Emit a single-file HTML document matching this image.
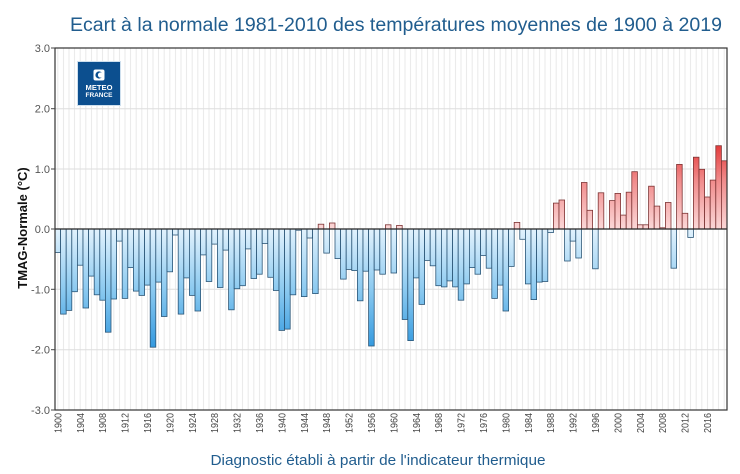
<!DOCTYPE html>
<html><head><meta charset="utf-8">
<style>
html,body{margin:0;padding:0;background:#fff;}
svg{display:block;font-family:"Liberation Sans",Arial,sans-serif;}
</style></head>
<body>
<svg width="740" height="474" viewBox="0 0 740 474" xmlns="http://www.w3.org/2000/svg">
<defs>
<linearGradient id="gb" gradientUnits="userSpaceOnUse" x1="0" y1="229" x2="0" y2="350">
<stop offset="0" stop-color="#e2f2fd"/><stop offset="0.5" stop-color="#8ccaf0"/><stop offset="1" stop-color="#2f97de"/>
</linearGradient>
<linearGradient id="gr" gradientUnits="userSpaceOnUse" x1="0" y1="229" x2="0" y2="145">
<stop offset="0" stop-color="#fbd8d8"/><stop offset="0.6" stop-color="#f08888"/><stop offset="1" stop-color="#e33a3a"/>
</linearGradient>
<pattern id="vg" patternUnits="userSpaceOnUse" x="55" y="0" width="5.6" height="474">
<line x1="2.8" y1="0" x2="2.8" y2="474" stroke="#e8e8e8" stroke-width="1"/>
</pattern>
</defs>

<text x="396" y="31" text-anchor="middle" font-size="19" fill="#215d8e" textLength="652" lengthAdjust="spacingAndGlyphs">Ecart à la normale 1981-2010 des températures moyennes de 1900 à 2019</text>

<rect x="55" y="48" width="672" height="362" fill="url(#vg)"/>
<g stroke="#dedede" stroke-width="1">
<line x1="55" y1="108.7" x2="727" y2="108.7"/>
<line x1="55" y1="169" x2="727" y2="169"/>
<line x1="55" y1="289.3" x2="727" y2="289.3"/>
<line x1="55" y1="349.7" x2="727" y2="349.7"/>
</g>

<!-- logo -->
<rect x="77.5" y="61.5" width="43" height="44" fill="#0c4f8f" stroke="#cfe0ee" stroke-width="1"/>
<rect x="93.5" y="69.5" width="11" height="11" rx="2" fill="#fff"/>
<circle cx="99" cy="75" r="3.6" fill="#0c4f8f"/>
<circle cx="100.5" cy="75" r="2.6" fill="#fff"/>
<text x="99" y="90" text-anchor="middle" font-size="7.5" font-weight="bold" fill="#fff" textLength="27" lengthAdjust="spacingAndGlyphs">METEO</text>
<text x="99" y="97" text-anchor="middle" font-size="6.5" font-weight="bold" fill="#fff" textLength="27" lengthAdjust="spacingAndGlyphs">FRANCE</text>

<!-- negative bars -->
<g fill="url(#gb)" stroke="#2b5677" stroke-width="0.8">
<rect x="55" y="229" width="5.6" height="23.5"/>
<rect x="60.6" y="229" width="5.6" height="85.1"/>
<rect x="66.2" y="229" width="5.6" height="81.4"/>
<rect x="71.8" y="229" width="5.6" height="62.7"/>
<rect x="77.4" y="229" width="5.6" height="36.2"/>
<rect x="83" y="229" width="5.6" height="79"/>
<rect x="88.6" y="229" width="5.6" height="47.1"/>
<rect x="94.2" y="229" width="5.6" height="65.8"/>
<rect x="99.8" y="229" width="5.6" height="71.2"/>
<rect x="105.4" y="229" width="5.6" height="103.2"/>
<rect x="111" y="229" width="5.6" height="70"/>
<rect x="116.6" y="229" width="5.6" height="12.1"/>
<rect x="122.2" y="229" width="5.6" height="69.4"/>
<rect x="127.8" y="229" width="5.6" height="38.6"/>
<rect x="133.4" y="229" width="5.6" height="62.1"/>
<rect x="139" y="229" width="5.6" height="66.4"/>
<rect x="144.6" y="229" width="5.6" height="56.1"/>
<rect x="150.2" y="229" width="5.6" height="118.2"/>
<rect x="155.8" y="229" width="5.6" height="53.1"/>
<rect x="161.4" y="229" width="5.6" height="87.5"/>
<rect x="167" y="229" width="5.6" height="42.8"/>
<rect x="172.6" y="229" width="5.6" height="6"/>
<rect x="178.2" y="229" width="5.6" height="85.1"/>
<rect x="183.8" y="229" width="5.6" height="48.9"/>
<rect x="189.4" y="229" width="5.6" height="66.4"/>
<rect x="195" y="229" width="5.6" height="82"/>
<rect x="200.6" y="229" width="5.6" height="25.9"/>
<rect x="206.2" y="229" width="5.6" height="52.5"/>
<rect x="211.8" y="229" width="5.6" height="15.1"/>
<rect x="217.4" y="229" width="5.6" height="58.5"/>
<rect x="223" y="229" width="5.6" height="21.1"/>
<rect x="228.6" y="229" width="5.6" height="80.8"/>
<rect x="234.2" y="229" width="5.6" height="59.7"/>
<rect x="239.8" y="229" width="5.6" height="56.7"/>
<rect x="245.4" y="229" width="5.6" height="19.9"/>
<rect x="251" y="229" width="5.6" height="49.5"/>
<rect x="256.6" y="229" width="5.6" height="45.2"/>
<rect x="262.2" y="229" width="5.6" height="14.5"/>
<rect x="267.8" y="229" width="5.6" height="48.3"/>
<rect x="273.4" y="229" width="5.6" height="61.5"/>
<rect x="279" y="229" width="5.6" height="101.4"/>
<rect x="284.6" y="229" width="5.6" height="100.1"/>
<rect x="290.2" y="229" width="5.6" height="65.8"/>
<rect x="295.8" y="229" width="5.6" height="1.2"/>
<rect x="301.4" y="229" width="5.6" height="67.6"/>
<rect x="307" y="229" width="5.6" height="9"/>
<rect x="312.6" y="229" width="5.6" height="64.6"/>
<rect x="323.8" y="229" width="5.6" height="24.1"/>
<rect x="335" y="229" width="5.6" height="29.6"/>
<rect x="340.6" y="229" width="5.6" height="50.1"/>
<rect x="346.2" y="229" width="5.6" height="40.4"/>
<rect x="351.8" y="229" width="5.6" height="41.6"/>
<rect x="357.4" y="229" width="5.6" height="71.8"/>
<rect x="363" y="229" width="5.6" height="42.2"/>
<rect x="368.6" y="229" width="5.6" height="117"/>
<rect x="374.2" y="229" width="5.6" height="41"/>
<rect x="379.8" y="229" width="5.6" height="45.2"/>
<rect x="391" y="229" width="5.6" height="44"/>
<rect x="402.2" y="229" width="5.6" height="90.5"/>
<rect x="407.8" y="229" width="5.6" height="111.6"/>
<rect x="413.4" y="229" width="5.6" height="48.9"/>
<rect x="419" y="229" width="5.6" height="75.4"/>
<rect x="424.6" y="229" width="5.6" height="31.4"/>
<rect x="430.2" y="229" width="5.6" height="36.8"/>
<rect x="435.8" y="229" width="5.6" height="56.7"/>
<rect x="441.4" y="229" width="5.6" height="57.9"/>
<rect x="447" y="229" width="5.6" height="51.9"/>
<rect x="452.6" y="229" width="5.6" height="57.9"/>
<rect x="458.2" y="229" width="5.6" height="71.2"/>
<rect x="463.8" y="229" width="5.6" height="54.9"/>
<rect x="469.4" y="229" width="5.6" height="38.6"/>
<rect x="475" y="229" width="5.6" height="45.2"/>
<rect x="480.6" y="229" width="5.6" height="26.5"/>
<rect x="486.2" y="229" width="5.6" height="39.2"/>
<rect x="491.8" y="229" width="5.6" height="69.4"/>
<rect x="497.4" y="229" width="5.6" height="56.1"/>
<rect x="503" y="229" width="5.6" height="82"/>
<rect x="508.6" y="229" width="5.6" height="37.4"/>
<rect x="519.8" y="229" width="5.6" height="10.3"/>
<rect x="525.4" y="229" width="5.6" height="54.9"/>
<rect x="531" y="229" width="5.6" height="70.6"/>
<rect x="536.6" y="229" width="5.6" height="53.1"/>
<rect x="542.2" y="229" width="5.6" height="52.5"/>
<rect x="547.8" y="229" width="5.6" height="3.6"/>
<rect x="564.6" y="229" width="5.6" height="32"/>
<rect x="570.2" y="229" width="5.6" height="12.1"/>
<rect x="575.8" y="229" width="5.6" height="29"/>
<rect x="592.6" y="229" width="5.6" height="39.8"/>
<rect x="671" y="229" width="5.6" height="39.2"/>
<rect x="687.8" y="229" width="5.6" height="8.4"/>
</g>

<!-- positive bars -->
<g fill="url(#gr)" stroke="#7d3434" stroke-width="0.8">
<rect x="318.2" y="224.2" width="5.6" height="4.8"/>
<rect x="329.4" y="223" width="5.6" height="6"/>
<rect x="385.4" y="224.8" width="5.6" height="4.2"/>
<rect x="396.6" y="225.4" width="5.6" height="3.6"/>
<rect x="514.2" y="222.4" width="5.6" height="6.6"/>
<rect x="553.4" y="203.1" width="5.6" height="25.9"/>
<rect x="559" y="200" width="5.6" height="29"/>
<rect x="581.4" y="182.5" width="5.6" height="46.5"/>
<rect x="587" y="210.3" width="5.6" height="18.7"/>
<rect x="598.2" y="192.8" width="5.6" height="36.2"/>
<rect x="609.4" y="200.6" width="5.6" height="28.4"/>
<rect x="615" y="193.4" width="5.6" height="35.6"/>
<rect x="620.6" y="215.1" width="5.6" height="13.9"/>
<rect x="626.2" y="192.2" width="5.6" height="36.8"/>
<rect x="631.8" y="171.7" width="5.6" height="57.3"/>
<rect x="637.4" y="224.8" width="5.6" height="4.2"/>
<rect x="643" y="224.8" width="5.6" height="4.2"/>
<rect x="648.6" y="186.2" width="5.6" height="42.8"/>
<rect x="654.2" y="206.1" width="5.6" height="22.9"/>
<rect x="659.8" y="227.8" width="5.6" height="1.2"/>
<rect x="665.4" y="202.5" width="5.6" height="26.5"/>
<rect x="676.6" y="164.4" width="5.6" height="64.6"/>
<rect x="682.2" y="213.3" width="5.6" height="15.7"/>
<rect x="693.4" y="157.2" width="5.6" height="71.8"/>
<rect x="699" y="169.3" width="5.6" height="59.7"/>
<rect x="704.6" y="197" width="5.6" height="32"/>
<rect x="710.2" y="180.1" width="5.6" height="48.9"/>
<rect x="715.8" y="145.7" width="5.6" height="83.3"/>
<rect x="721.4" y="160.8" width="5.6" height="68.2"/>
</g>

<!-- zero line and frame -->
<line x1="55" y1="229" x2="727" y2="229" stroke="#222" stroke-width="1.2"/>
<rect x="55" y="48" width="672" height="362" fill="none" stroke="#333" stroke-width="1.2"/>

<!-- y ticks -->
<g stroke="#444" stroke-width="1">
<line x1="51" y1="48" x2="55" y2="48"/>
<line x1="51" y1="108.7" x2="55" y2="108.7"/>
<line x1="51" y1="169" x2="55" y2="169"/>
<line x1="51" y1="229" x2="55" y2="229"/>
<line x1="51" y1="289.3" x2="55" y2="289.3"/>
<line x1="51" y1="349.7" x2="55" y2="349.7"/>
<line x1="51" y1="410" x2="55" y2="410"/>
</g>
<g font-size="11" fill="#555" text-anchor="end">
<text x="50" y="52">3.0</text>
<text x="50" y="112.7">2.0</text>
<text x="50" y="173">1.0</text>
<text x="50" y="233">0.0</text>
<text x="50" y="293.3">-1.0</text>
<text x="50" y="353.7">-2.0</text>
<text x="50" y="414">-3.0</text>
</g>

<text transform="translate(27,228) rotate(-90)" text-anchor="middle" font-size="13" font-weight="bold" fill="#111">TMAG-Normale (°C)</text>

<!-- x labels -->
<g font-size="10" fill="#444" text-anchor="end">
<text transform="translate(61.4,413) rotate(-90)" textLength="20" lengthAdjust="spacingAndGlyphs">1900</text>
<text transform="translate(83.8,413) rotate(-90)" textLength="20" lengthAdjust="spacingAndGlyphs">1904</text>
<text transform="translate(106.2,413) rotate(-90)" textLength="20" lengthAdjust="spacingAndGlyphs">1908</text>
<text transform="translate(128.6,413) rotate(-90)" textLength="20" lengthAdjust="spacingAndGlyphs">1912</text>
<text transform="translate(151,413) rotate(-90)" textLength="20" lengthAdjust="spacingAndGlyphs">1916</text>
<text transform="translate(173.4,413) rotate(-90)" textLength="20" lengthAdjust="spacingAndGlyphs">1920</text>
<text transform="translate(195.8,413) rotate(-90)" textLength="20" lengthAdjust="spacingAndGlyphs">1924</text>
<text transform="translate(218.2,413) rotate(-90)" textLength="20" lengthAdjust="spacingAndGlyphs">1928</text>
<text transform="translate(240.6,413) rotate(-90)" textLength="20" lengthAdjust="spacingAndGlyphs">1932</text>
<text transform="translate(263,413) rotate(-90)" textLength="20" lengthAdjust="spacingAndGlyphs">1936</text>
<text transform="translate(285.4,413) rotate(-90)" textLength="20" lengthAdjust="spacingAndGlyphs">1940</text>
<text transform="translate(307.8,413) rotate(-90)" textLength="20" lengthAdjust="spacingAndGlyphs">1944</text>
<text transform="translate(330.2,413) rotate(-90)" textLength="20" lengthAdjust="spacingAndGlyphs">1948</text>
<text transform="translate(352.6,413) rotate(-90)" textLength="20" lengthAdjust="spacingAndGlyphs">1952</text>
<text transform="translate(375,413) rotate(-90)" textLength="20" lengthAdjust="spacingAndGlyphs">1956</text>
<text transform="translate(397.4,413) rotate(-90)" textLength="20" lengthAdjust="spacingAndGlyphs">1960</text>
<text transform="translate(419.8,413) rotate(-90)" textLength="20" lengthAdjust="spacingAndGlyphs">1964</text>
<text transform="translate(442.2,413) rotate(-90)" textLength="20" lengthAdjust="spacingAndGlyphs">1968</text>
<text transform="translate(464.6,413) rotate(-90)" textLength="20" lengthAdjust="spacingAndGlyphs">1972</text>
<text transform="translate(487,413) rotate(-90)" textLength="20" lengthAdjust="spacingAndGlyphs">1976</text>
<text transform="translate(509.4,413) rotate(-90)" textLength="20" lengthAdjust="spacingAndGlyphs">1980</text>
<text transform="translate(531.8,413) rotate(-90)" textLength="20" lengthAdjust="spacingAndGlyphs">1984</text>
<text transform="translate(554.2,413) rotate(-90)" textLength="20" lengthAdjust="spacingAndGlyphs">1988</text>
<text transform="translate(576.6,413) rotate(-90)" textLength="20" lengthAdjust="spacingAndGlyphs">1992</text>
<text transform="translate(599,413) rotate(-90)" textLength="20" lengthAdjust="spacingAndGlyphs">1996</text>
<text transform="translate(621.4,413) rotate(-90)" textLength="20" lengthAdjust="spacingAndGlyphs">2000</text>
<text transform="translate(643.8,413) rotate(-90)" textLength="20" lengthAdjust="spacingAndGlyphs">2004</text>
<text transform="translate(666.2,413) rotate(-90)" textLength="20" lengthAdjust="spacingAndGlyphs">2008</text>
<text transform="translate(688.6,413) rotate(-90)" textLength="20" lengthAdjust="spacingAndGlyphs">2012</text>
<text transform="translate(711,413) rotate(-90)" textLength="20" lengthAdjust="spacingAndGlyphs">2016</text>
</g>

<text x="378" y="465" text-anchor="middle" font-size="14.5" fill="#215d8e" textLength="335" lengthAdjust="spacingAndGlyphs">Diagnostic établi à partir de l'indicateur thermique</text>
</svg>
</body></html>
